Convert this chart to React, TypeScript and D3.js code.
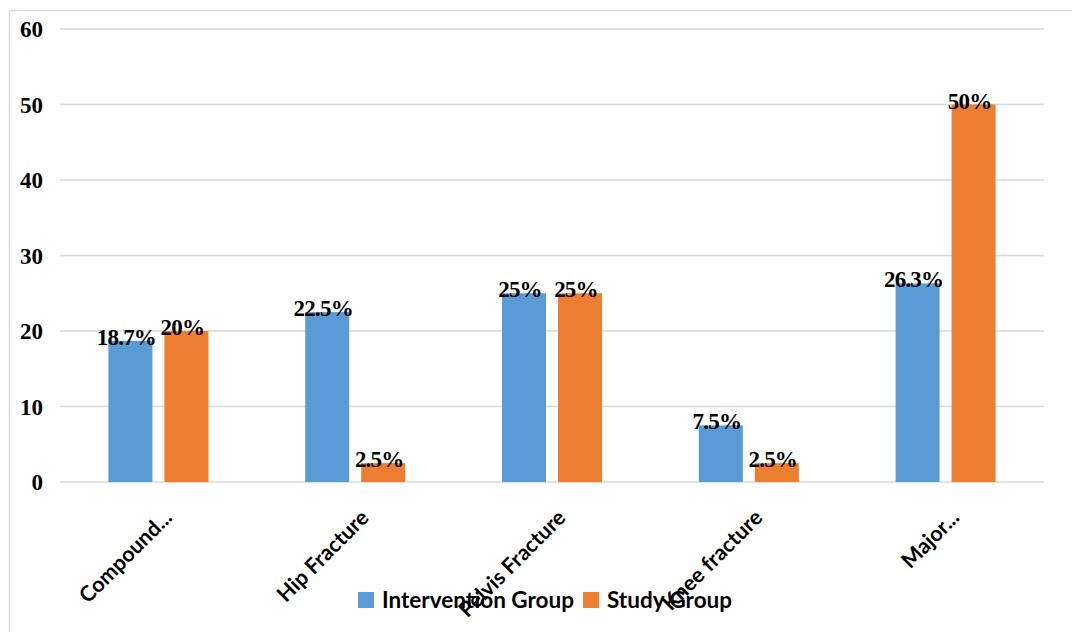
import React from 'react';
import * as d3 from 'd3';

const categories = ['Compound...', 'Hip Fracture', 'Pelvis Fracture', 'Knee fracture', 'Major...'];
const seriesNames = ['Intervention Group', 'Study Group'];
const interventionValues = [18.7, 22.5, 25, 7.5, 26.3];
const studyValues = [20, 2.5, 25, 2.5, 50];
const yTicks = [0, 10, 20, 30, 40, 50, 60];
const colors = ['#5B9BD5', '#ED7D31'];

const width = 1072;
const height = 632;
const left = 60;
const right = 1044;
const top = 29;
const bottom = 482;

export default function App() {
  const y = d3.scaleLinear().domain([0, 60]).range([bottom, top]);
  const x0 = d3.scaleBand<string>().domain(categories).range([left, right]).paddingInner(0.492).paddingOuter(0.246);
  const x1 = d3.scaleBand<string>().domain(seriesNames).range([0, x0.bandwidth()]).paddingInner(0.214);
  const values = [interventionValues, studyValues];

  return (
    <div style={{ position: 'absolute', left: 0, top: 0 }}>
      <svg width={width} height={height}>
        <rect width={width} height={height} fill="#fff" />
        <line x1={9.5} x2={width} y1={10.5} y2={10.5} stroke="#d9d9d9" strokeWidth={1.5} />
        <line x1={9.5} x2={9.5} y1={10.5} y2={height} stroke="#d9d9d9" strokeWidth={1.5} />
        {yTicks.map((t) => (
          <g key={t}>
            <line x1={left} x2={right} y1={y(t)} y2={y(t)} stroke="#d9d9d9" strokeWidth={1.5} />
            <text
              x={43}
              y={y(t)}
              dy="0.35em"
              textAnchor="end"
              fontFamily="'Liberation Serif', serif"
              fontWeight="bold"
              fontSize={23}
              fill="#000"
            >
              {t}
            </text>
          </g>
        ))}
        {categories.map((c, i) => (
          <g key={c} transform={`translate(${x0(c)},0)`}>
            {seriesNames.map((s, j) => {
              const v = values[j][i];
              const bx = x1(s) as number;
              return (
                <g key={s}>
                  <rect x={bx} y={y(v)} width={x1.bandwidth()} height={bottom - y(v)} fill={colors[j]} />
                  <text
                    x={bx + x1.bandwidth() / 2 - 4}
                    y={y(v) + 4}
                    textAnchor="middle"
                    fontFamily="'Liberation Serif', serif"
                    fontWeight="bold"
                    fontSize={23}
                    letterSpacing={-0.8}
                    fill="#000"
                  >
                    {`${v}%`}
                  </text>
                </g>
              );
            })}
          </g>
        ))}
        {categories.map((c) => {
          const cx = (x0(c) as number) + x0.bandwidth() / 2;
          return (
            <text
              key={c}
              transform={`translate(${cx + 15},${519}) rotate(-45)`}
              textAnchor="end"
              fontFamily="Lato, sans-serif"
              fontWeight="bold"
              fontSize={21.5}
              fill="#000"
            >
              {c}
            </text>
          );
        })}
        {seriesNames.map((s, j) => {
          const lx = j === 0 ? 358 : 583;
          return (
            <g key={s}>
              <rect x={lx} y={592} width={16} height={16} fill={colors[j]} />
              <text x={lx + 24} y={608} fontFamily="Lato, sans-serif" fontWeight="bold" fontSize={22.5} fill="#000">
                {s}
              </text>
            </g>
          );
        })}
      </svg>
    </div>
  );
}
